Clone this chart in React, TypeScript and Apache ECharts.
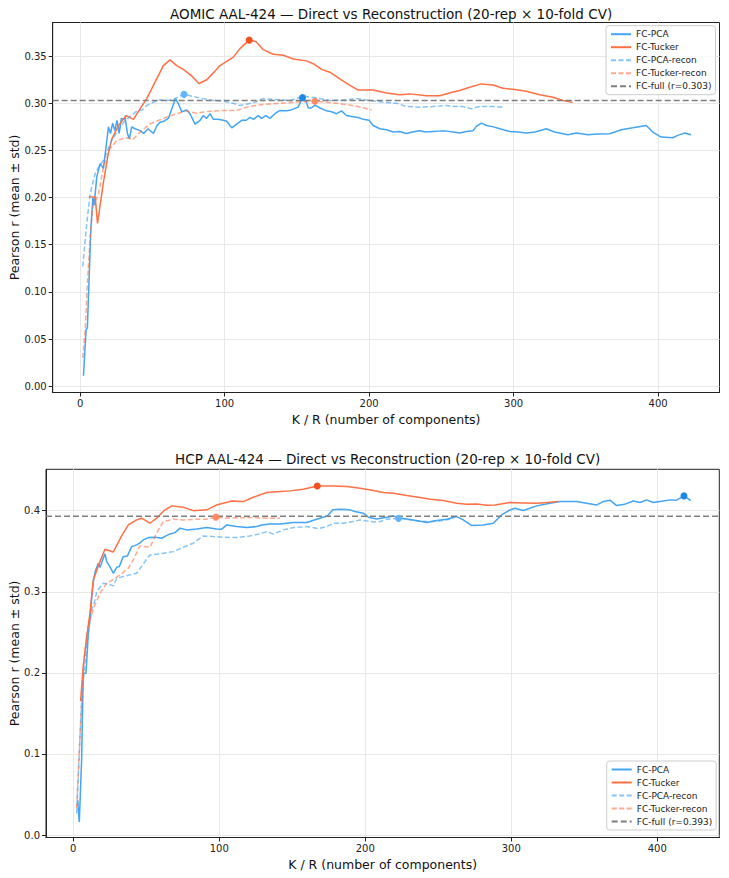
import React, { useEffect, useRef } from "react";
import * as echarts from "echarts";

type Pt = [number, number];

// ---- AOMIC AAL-424: [K or R, mean Pearson r] ----
const aomicPca: Pt[] = [
  [2.3, 0.011], [4.1, 0.06], [5.0, 0.062], [7.4, 0.166], [8.8, 0.2], [9.7, 0.192], [11.5, 0.222],
  [13.8, 0.236], [16.1, 0.231], [19.6, 0.275], [21, 0.268], [22.5, 0.279], [24, 0.271], [25.5, 0.282],
  [27, 0.268], [28.5, 0.284], [30, 0.283], [31.1, 0.285], [32.7, 0.268], [34.1, 0.2625], [35.7, 0.275],
  [38, 0.273], [41.5, 0.271], [44, 0.268], [47, 0.273], [50.7, 0.268], [53, 0.276], [55.3, 0.28],
  [58, 0.281], [61, 0.284], [63.4, 0.294], [66, 0.305], [68, 0.2995], [70.3, 0.291], [73.8, 0.293],
  [76, 0.289], [79.5, 0.278], [83, 0.282], [85.2, 0.287], [87.5, 0.284], [89.9, 0.289], [92.2, 0.283],
  [95.5, 0.283], [99, 0.282], [101.5, 0.281], [104.9, 0.274], [108.3, 0.278], [111.8, 0.282], [115, 0.282],
  [117.5, 0.285], [120, 0.283], [123.3, 0.287], [125.5, 0.284], [128.5, 0.287], [131.3, 0.284],
  [134.8, 0.289], [138.3, 0.2924], [142.9, 0.292], [146, 0.293], [150.9, 0.296], [153.9, 0.306],
  [156.7, 0.301], [157.9, 0.295], [160, 0.295], [162.5, 0.298], [166, 0.295], [170.5, 0.292], [174, 0.291],
  [177.5, 0.289], [180.9, 0.292], [184.3, 0.287], [188, 0.286], [192.4, 0.285], [196, 0.283], [200, 0.282],
  [202.8, 0.2765], [207.4, 0.273], [212, 0.272], [216.6, 0.2695], [221, 0.27], [225.8, 0.268], [230, 0.2695],
  [235, 0.271], [239, 0.2695], [244, 0.27], [248.9, 0.2705], [253.5, 0.2705], [258.1, 0.2695],
  [262.7, 0.2684], [267.3, 0.27], [271.9, 0.271], [274.2, 0.2755], [277.7, 0.279], [281.2, 0.2765],
  [286, 0.275], [290.4, 0.273], [297.3, 0.27], [303, 0.2695], [308.8, 0.2684], [315, 0.2695],
  [322.6, 0.273], [328.4, 0.2695], [337.6, 0.2667], [343.4, 0.2684], [351.4, 0.2667], [358, 0.2675],
  [366.4, 0.2678], [374.5, 0.272], [382.5, 0.274], [391.8, 0.2765], [396.3, 0.2695], [402.1, 0.2642],
  [410.2, 0.2635], [413.6, 0.266], [418.2, 0.2684], [422.9, 0.2667],
];

const aomicTucker: Pt[] = [
  [6, 0.2007], [10.4, 0.2007], [12, 0.1726], [16, 0.215], [19.6, 0.248], [21.9, 0.262], [26, 0.275],
  [31.8, 0.287], [36.9, 0.283], [41, 0.293], [46.1, 0.305], [52, 0.323], [57.6, 0.34], [62.2, 0.346],
  [66.8, 0.34], [71.4, 0.336], [77.2, 0.329], [82.3, 0.321], [87.6, 0.325], [92, 0.332], [96.8, 0.34],
  [106, 0.349], [110.6, 0.358], [117, 0.367], [121.5, 0.3655], [126.7, 0.357], [133.6, 0.352],
  [140.6, 0.351], [147.5, 0.347], [156.7, 0.345], [161.3, 0.342], [167.1, 0.336], [172.8, 0.333],
  [179.7, 0.326], [186.7, 0.319], [192.4, 0.314], [202.8, 0.314], [212, 0.311], [221.2, 0.309],
  [228.1, 0.31], [239.7, 0.308], [248.9, 0.308], [258.1, 0.312], [262.7, 0.3135], [269.6, 0.317],
  [277.7, 0.3206], [285.7, 0.3195], [292.6, 0.316], [301.9, 0.3143], [308.8, 0.3128], [318, 0.309],
  [327.2, 0.3065], [334.1, 0.303], [341, 0.301],
];

const aomicPcaRecon: Pt[] = [
  [1.8, 0.127], [4.6, 0.173], [6.9, 0.204], [10.4, 0.2255], [13, 0.233], [16.1, 0.2395], [21.9, 0.2607],
  [27.7, 0.2747], [31.1, 0.2818], [34.1, 0.2853], [39.2, 0.2917], [43, 0.293], [46.1, 0.2977],
  [50.7, 0.3012], [55.3, 0.3037], [60, 0.303], [64.5, 0.3037], [68, 0.307], [71.9, 0.3095], [78.3, 0.3072],
  [85.2, 0.3048], [92.2, 0.303], [99, 0.3022], [106, 0.3001], [110.6, 0.2977], [115, 0.299], [121, 0.3012],
  [126.7, 0.305], [136, 0.304], [145.2, 0.303], [154.4, 0.3075], [163.6, 0.3058], [172.8, 0.303],
  [182, 0.3035], [191.3, 0.3048], [200.5, 0.303], [209.7, 0.3012], [218.9, 0.3001], [225.8, 0.2966],
  [235, 0.2959], [244, 0.2966], [253.5, 0.2977], [260.4, 0.2966], [265, 0.2965], [270.8, 0.2942],
  [276.5, 0.2966], [285.7, 0.2966], [292.2, 0.2959],
];

const aomicTuckerRecon: Pt[] = [
  [1.8, 0.03], [3.5, 0.06], [5, 0.109], [6.9, 0.158], [8.8, 0.19], [12.7, 0.204], [16.1, 0.232],
  [20.7, 0.252], [25.4, 0.2607], [32.3, 0.2635], [36.4, 0.2614], [41.5, 0.2695], [48.4, 0.2783],
  [54.1, 0.2818], [59.9, 0.2853], [66.8, 0.289], [73.8, 0.2917], [80.7, 0.2895], [89.9, 0.2917],
  [99, 0.2924], [108.3, 0.2924], [115.2, 0.2959], [124.4, 0.2984], [133.6, 0.2995], [140, 0.3001],
  [147.5, 0.3012], [156.7, 0.3019], [162.5, 0.3022], [170.5, 0.3012], [179.7, 0.2995], [189, 0.2977],
  [195.8, 0.2953], [201.7, 0.293],
];

// ---- HCP AAL-424 ----
const hcpPca: Pt[] = [
  [3, 0.043], [4.1, 0.016], [5.7, 0.0925], [6.8, 0.1995], [8.7, 0.1995], [10.3, 0.2488], [11.9, 0.2776],
  [13.5, 0.31], [15, 0.325], [17.1, 0.335], [18.3, 0.33], [20.1, 0.3393], [21.7, 0.3467], [22.9, 0.3372],
  [25.1, 0.331], [27.4, 0.3228], [29.7, 0.3302], [31.5, 0.331], [34.2, 0.3433], [37, 0.344], [40, 0.3557],
  [43.4, 0.3578], [45.5, 0.36], [47.9, 0.3639], [51.4, 0.3668], [56, 0.3673], [60.5, 0.366], [63.5, 0.3689],
  [66.2, 0.3713], [69.7, 0.3729], [73.1, 0.3784], [77.7, 0.3763], [84.5, 0.3775], [91.4, 0.3791],
  [98.2, 0.3775], [101.5, 0.377], [105.1, 0.3824], [112, 0.3804], [118.8, 0.3791], [125.6, 0.3804],
  [129, 0.3824], [134.7, 0.3837], [141.6, 0.3837], [150.7, 0.3853], [159.9, 0.3853], [166.7, 0.3894],
  [174, 0.3935], [177.8, 0.401], [182.7, 0.4018], [189.5, 0.401], [192.9, 0.3989], [198.6, 0.3969],
  [202.1, 0.392], [207.8, 0.3898], [214.7, 0.392], [219.2, 0.3935], [226, 0.3902], [232.9, 0.3886],
  [242.1, 0.3853], [248.9, 0.3878], [255.8, 0.3894], [262.6, 0.3927], [267.1, 0.3886], [272.9, 0.3816],
  [280.8, 0.3824], [287.7, 0.3845], [293.4, 0.3948], [299.1, 0.4009], [302.5, 0.403], [308.2, 0.4001],
  [317.4, 0.4059], [326.5, 0.4092], [333.4, 0.4112], [344.8, 0.4112], [351.6, 0.4092], [358.5, 0.4071],
  [363, 0.4112], [367.6, 0.4129], [372.2, 0.4063], [377.9, 0.408], [383.6, 0.412], [388.2, 0.41],
  [392.7, 0.4133], [397.3, 0.41], [404.1, 0.412], [408.7, 0.4133], [413.3, 0.4129], [418.3, 0.4182],
  [422.9, 0.4124],
];

const hcpTucker: Pt[] = [
  [5, 0.165], [6.8, 0.208], [9.2, 0.245], [11.4, 0.2735], [13.7, 0.3146], [17.8, 0.335], [21.7, 0.3524],
  [27.4, 0.349], [33.1, 0.369], [37.7, 0.3824], [43.4, 0.3886], [46.8, 0.3907], [52.5, 0.3845],
  [57.1, 0.3907], [62.1, 0.4], [67.4, 0.4059], [75.3, 0.4043], [82.2, 0.4], [91.4, 0.401], [98.2, 0.4071],
  [108.5, 0.412], [116.4, 0.4112], [123.3, 0.4166], [132.5, 0.4223], [141.6, 0.4235], [148.4, 0.4244],
  [157.5, 0.4265], [167.1, 0.4305], [178.1, 0.4303], [187.3, 0.4297], [196.4, 0.4277], [205.6, 0.4248],
  [212.3, 0.4223], [219.2, 0.4215], [228.4, 0.4186], [237.5, 0.4161], [244.3, 0.4141], [253.4, 0.4124],
  [262.6, 0.4092], [269.5, 0.408], [276.3, 0.4083], [283.2, 0.4067], [288.8, 0.4071], [299.1, 0.41],
  [308.2, 0.4096], [317.4, 0.4092], [324.2, 0.41], [332.2, 0.4112],
];

const hcpPcaRecon: Pt[] = [
  [2.3, 0.027], [5.7, 0.1665], [9.2, 0.2365], [12.6, 0.2776], [14.9, 0.29], [16, 0.3], [20.5, 0.3105],
  [25.1, 0.309], [27.4, 0.3072], [29.7, 0.3167], [34.2, 0.3187], [38.8, 0.3208], [43.4, 0.3228],
  [49.1, 0.3372], [52.5, 0.3454], [59.4, 0.3467], [68.5, 0.3495], [75.3, 0.3549], [82.2, 0.3599],
  [89, 0.3689], [95.9, 0.368], [102.7, 0.3673], [111.9, 0.3668], [121, 0.3689], [127.9, 0.3715],
  [132.5, 0.3742], [137, 0.3713], [143.8, 0.3763], [150.7, 0.3791], [159.9, 0.3804], [167.8, 0.3779],
  [173.6, 0.3804], [178.1, 0.3845], [184.9, 0.3845], [191.8, 0.3865], [196.4, 0.3886], [201, 0.3874],
  [205.5, 0.3861], [210, 0.3865], [214.7, 0.3894], [222.8, 0.3905], [228.4, 0.3894], [235.2, 0.3874],
  [242.1, 0.3865], [251.2, 0.3874], [260.3, 0.3902],
];

const hcpTuckerRecon: Pt[] = [
  [2.3, 0.033], [5.1, 0.142], [7.3, 0.216], [10.3, 0.257], [13.7, 0.279], [18.3, 0.2982], [22.9, 0.3105],
  [27.4, 0.3154], [32, 0.3208], [37.7, 0.329], [41.1, 0.3393], [45.7, 0.3565], [52.5, 0.3549],
  [57.1, 0.3722], [61.6, 0.3865], [68.5, 0.3894], [75.3, 0.3886], [84.5, 0.3894], [91.4, 0.3894],
  [97.7, 0.392], [105.1, 0.3907], [114.2, 0.3912], [123.3, 0.3915], [132.5, 0.3907], [141.6, 0.3907],
];

const aomicFull = 0.303;
const hcpFull = 0.393;

// tick positions
const xTicks = [0, 100, 200, 300, 400];
const aomicYTicks = [0, 0.05, 0.1, 0.15, 0.2, 0.25, 0.3, 0.35];
const hcpYTicks = [0, 0.1, 0.2, 0.3, 0.4];

const panelTitles = [
  "AOMIC AAL-424 \u2014 Direct vs Reconstruction (20-rep \u00d7 10-fold CV)",
  "HCP AAL-424 \u2014 Direct vs Reconstruction (20-rep \u00d7 10-fold CV)",
];

const FONT = "DejaVu Sans";
const C_PCA = "#42A5F5";
const C_TUCKER = "#FF7043";
const C_PCA_RECON = "rgba(66,165,245,0.65)";
const C_TUCKER_RECON = "rgba(255,112,67,0.6)";
const C_PCA_BEST = "#1E88E5";
const C_TUCKER_BEST = "#F4511E";
const C_PCA_RECON_BEST = "#64B5F6";
const C_TUCKER_RECON_BEST = "#FF8A65";
const DASH = [5, 2.5];

function best(points: Pt[]): Pt {
  let b = points[0];
  for (const p of points) if (p[1] > b[1]) b = p;
  return b;
}

type Panel = {
  pca: Pt[];
  tucker: Pt[];
  pcaRecon: Pt[];
  tuckerRecon: Pt[];
  full: number;
  xRange: [number, number];
  yRange: [number, number];
  yTicks: number[];
  yDigits: number;
  grid: { left: number; top: number; width: number; height: number };
  legendPos: { left: number; top: number };
  title: string;
  titleTop: number;
  yNameGap: number;
};

const panels: Panel[] = [
  {
    pca: aomicPca, tucker: aomicTucker, pcaRecon: aomicPcaRecon, tuckerRecon: aomicTuckerRecon,
    full: aomicFull, xRange: [-19, 442.5], yRange: [-0.0067, 0.3857], yTicks: aomicYTicks, yDigits: 2,
    grid: { left: 52.7, top: 22.5, width: 666.8, height: 370 },
    legendPos: { left: 606, top: 25.7 }, title: panelTitles[0], titleTop: 2, yNameGap: 32,
  },
  {
    pca: hcpPca, tucker: hcpTucker, pcaRecon: hcpPcaRecon, tuckerRecon: hcpTuckerRecon,
    full: hcpFull, xRange: [-18.7, 442.5], yRange: [-0.003, 0.451], yTicks: hcpYTicks, yDigits: 1,
    grid: { left: 46, top: 469.3, width: 673.3, height: 368.2 },
    legendPos: { left: 606.7, top: 761 }, title: panelTitles[1], titleTop: 447, yNameGap: 25,
  },
];

function buildOption() {
  const grids: any[] = [];
  const xAxes: any[] = [];
  const yAxes: any[] = [];
  const titles: any[] = [];
  const legends: any[] = [];
  const series: any[] = [];

  panels.forEach((p, i) => {
    grids.push({
      ...p.grid,
      containLabel: false,
      outerBoundsMode: "none",
      show: true,
      borderColor: "#222",
      borderWidth: 1,
      backgroundColor: "transparent",
    });
    titles.push({
      text: p.title,
      left: p.grid.left + p.grid.width / 2,
      top: p.titleTop,
      textAlign: "center",
      textStyle: { fontFamily: FONT, fontSize: 13.5, fontWeight: "normal", color: "#111" },
    });
    const axisCommon = {
      gridIndex: i,
      axisLine: { show: true, onZero: false, lineStyle: { color: "#222", width: 1 } },
      splitLine: { show: true, lineStyle: { color: "#e8e8e8", width: 1 } },
      nameTextStyle: { fontFamily: FONT, fontSize: 12.5, color: "#111" },
      nameMoveOverlap: false,
    };
    xAxes.push({
      ...axisCommon,
      type: "value",
      min: p.xRange[0],
      max: p.xRange[1],
      splitNumber: 5,
      name: "K / R (number of components)",
      nameLocation: "middle",
      nameGap: 20,
      axisTick: {
        show: true, inside: false, length: 4, customValues: xTicks,
        lineStyle: { color: "#222", width: 1 },
      },
      axisLabel: {
        fontFamily: FONT, fontSize: 10, color: "#222", margin: 6, customValues: xTicks,
        formatter: (v: number) => String(Math.round(v)),
      },
    });
    yAxes.push({
      ...axisCommon,
      type: "value",
      min: p.yRange[0],
      max: p.yRange[1],
      splitNumber: p.yTicks.length - 1,
      name: "Pearson r (mean \u00b1 std)",
      nameLocation: "middle",
      nameGap: p.yNameGap,
      nameRotate: 90,
      axisTick: {
        show: true, inside: false, length: 4, customValues: p.yTicks,
        lineStyle: { color: "#222", width: 1 },
      },
      axisLabel: {
        fontFamily: FONT, fontSize: 10, color: "#222", margin: 6, customValues: p.yTicks,
        formatter: (v: number) => v.toFixed(p.yDigits),
      },
    });

    const fullName = `FC-full (r=${p.full.toFixed(3)})`;
    const lineSeries = (name: string, data: Pt[], color: string, dashed: boolean) => ({
      type: "line",
      name,
      xAxisIndex: i,
      yAxisIndex: i,
      data,
      symbol: "none",
      showSymbol: false,
      smooth: false,
      color,
      lineStyle: { color, width: 1.5, type: dashed ? DASH : "solid" },
      itemStyle: { color },
      z: 2,
    });
    series.push(lineSeries("FC-PCA", p.pca, C_PCA, false));
    series.push(lineSeries("FC-Tucker", p.tucker, C_TUCKER, false));
    series.push(lineSeries("FC-PCA-recon", p.pcaRecon, C_PCA_RECON, true));
    series.push(lineSeries("FC-Tucker-recon", p.tuckerRecon, C_TUCKER_RECON, true));
    series.push({
      ...lineSeries(fullName, [[p.xRange[0], p.full], [p.xRange[1], p.full]], "#7f7f7f", true),
      lineStyle: { color: "#7f7f7f", width: 1.5, type: [6, 3] },
    });

    const bests: [Pt, string][] = [
      [best(p.pca), C_PCA_BEST],
      [best(p.tucker), C_TUCKER_BEST],
      [best(p.pcaRecon), C_PCA_RECON_BEST],
      [best(p.tuckerRecon), C_TUCKER_RECON_BEST],
    ];
    bests.forEach(([pt, color], j) => {
      series.push({
        type: "scatter",
        name: `best-${i}-${j}`,
        xAxisIndex: i,
        yAxisIndex: i,
        data: [pt],
        symbol: "circle",
        symbolSize: 7,
        itemStyle: { color, opacity: 1 },
        z: 5,
      });
    });

    legends.push({
      data: ["FC-PCA", "FC-Tucker", "FC-PCA-recon", "FC-Tucker-recon", fullName],
      orient: "vertical",
      left: p.legendPos.left,
      top: p.legendPos.top,
      itemWidth: 20,
      itemHeight: 10,
      itemGap: 4,
      padding: [4, 4, 4, 4],
      backgroundColor: "rgba(255,255,255,0.8)",
      borderColor: "#cccccc",
      borderWidth: 1,
      borderRadius: 3,
      selectedMode: false,
      itemStyle: { opacity: 0 },
      textStyle: { fontFamily: FONT, fontSize: 9, color: "#222" },
    });
  });

  return {
    animation: false,
    backgroundColor: "#ffffff",
    textStyle: { fontFamily: FONT },
    title: titles,
    grid: grids,
    xAxis: xAxes,
    yAxis: yAxes,
    legend: legends,
    tooltip: { show: false },
    series,
  };
}

export default function App() {
  const ref = useRef<HTMLDivElement | null>(null);
  useEffect(() => {
    if (!ref.current) return;
    const chart = echarts.init(ref.current, undefined, { renderer: "svg" });
    chart.setOption(buildOption() as any);
    return () => chart.dispose();
  }, []);
  return (
    <div
      ref={ref}
      style={{ position: "absolute", left: 0, top: 0, width: 729, height: 878, background: "#fff" }}
    />
  );
}
